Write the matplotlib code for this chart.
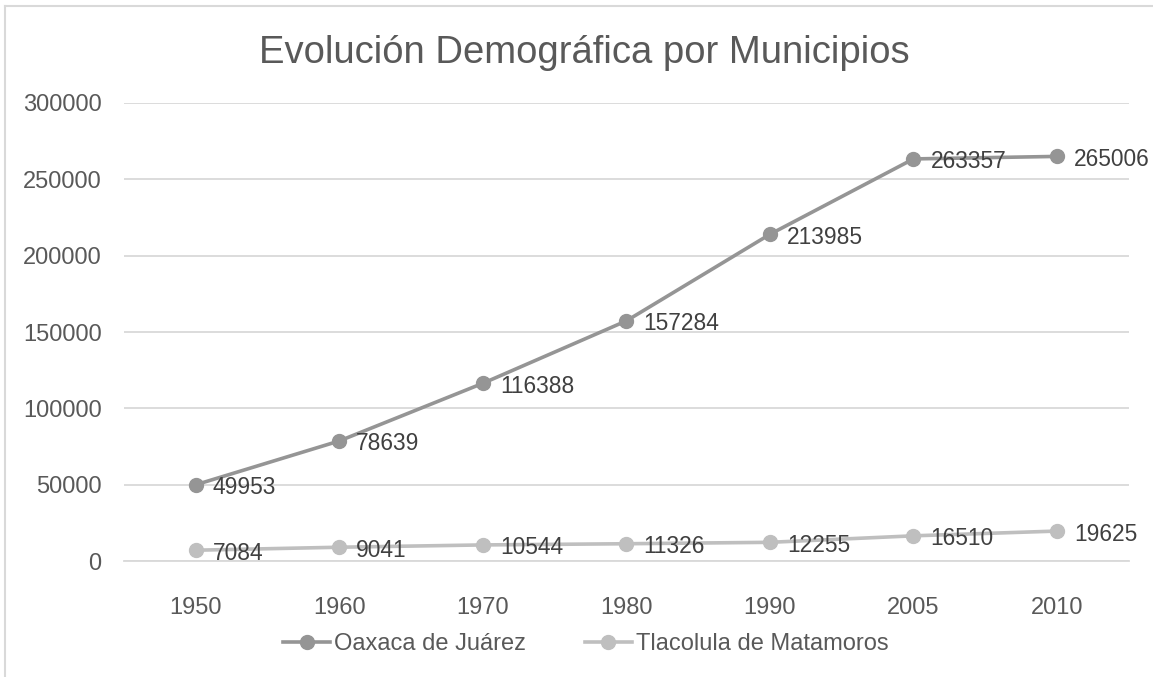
import matplotlib.pyplot as plt
from matplotlib.lines import Line2D

years = ["1950", "1960", "1970", "1980", "1990", "2005", "2010"]
oaxaca = [49953, 78639, 116388, 157284, 213985, 263357, 265006]
tlacolula = [7084, 9041, 10544, 11326, 12255, 16510, 19625]
yticks = [0, 50000, 100000, 150000, 200000, 250000, 300000]

plt.rcParams['font.family'] = ['Liberation Sans', 'DejaVu Sans']

fig = plt.figure(figsize=(11.53, 6.77), dpi=100)
ax = fig.add_axes([0.1075, 0.1713, 0.8715, 0.6766])

x = list(range(len(years)))
c1 = '#959595'
c2 = '#bfbfbf'
ax.plot(x, oaxaca, color=c1, lw=2.6, marker='o', ms=10, label='Oaxaca de Juárez', zorder=3)
ax.plot(x, tlacolula, color=c2, lw=2.6, marker='o', ms=10, label='Tlacolula de Matamoros', zorder=3)

for xi, v in zip(x, oaxaca):
    ax.annotate(str(v), (xi, v), xytext=(17, -3), textcoords='offset pixels',
                ha='left', va='center', fontsize=16.4, color='#404040', zorder=4)
for xi, v in zip(x, tlacolula):
    ax.annotate(str(v), (xi, v), xytext=(17, -3), textcoords='offset pixels',
                ha='left', va='center', fontsize=16.4, color='#404040', zorder=4)

ax.set_xlim(-0.5, len(years) - 0.5)
ax.set_ylim(0, 300000)
ax.set_xticks(x)
ax.set_xticklabels(years)
ax.set_yticks(yticks)
ax.set_yticklabels([str(t) for t in yticks])
ax.tick_params(length=0, labelsize=17, labelcolor='#595959')
ax.tick_params(axis='x', pad=26)
ax.tick_params(axis='y', pad=16)
ax.grid(axis='y', color='#d9d9d9', lw=1.3)
ax.set_axisbelow(True)
for s in ['top', 'right', 'left']:
    ax.spines[s].set_visible(False)
ax.spines['bottom'].set_color('#d9d9d9')
ax.spines['bottom'].set_linewidth(1.3)

fig.text(0.507, 0.921, 'Evolución Demográfica por Municipios', ha='center', va='center',
         fontsize=27.5, color='#595959')

fig.legend(loc='center', bbox_to_anchor=(0.508, 0.049), ncol=2, frameon=False,
           fontsize=17, handlelength=2.0, handletextpad=0.15, columnspacing=2.5,
           labelcolor='#595959')

# chart area border (left and top)
fig.add_artist(Line2D([5 / 1153, 5 / 1153], [0, 1 - 6 / 677], color='#d9d9d9', lw=1.5))
fig.add_artist(Line2D([5 / 1153, 1], [1 - 6 / 677, 1 - 6 / 677], color='#d9d9d9', lw=1.5))

fig.savefig('out.png', dpi=100)
